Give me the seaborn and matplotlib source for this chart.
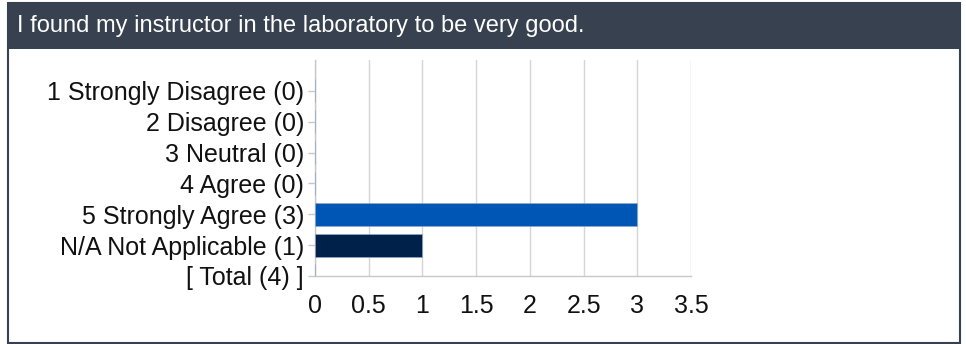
import matplotlib
matplotlib.use("Agg")
import matplotlib.pyplot as plt
import seaborn as sns
import pandas as pd
from matplotlib.patches import Rectangle

title = "I found my instructor in the laboratory to be very good."
categories = ["1 Strongly Disagree (0)", "2 Disagree (0)", "3 Neutral (0)", "4 Agree (0)",
              "5 Strongly Agree (3)", "N/A Not Applicable (1)", "[ Total (4) ]"]
counts = [0, 0, 0, 0, 3, 1, 0]
bar_colors = ["#0056b4", "#0056b4", "#0056b4", "#0056b4", "#0056b4", "#00214a", "#0056b4"]
xticks = [0, 0.5, 1, 1.5, 2, 2.5, 3, 3.5]
xticklabels = ["0", "0.5", "1", "1.5", "2", "2.5", "3", "3.5"]

df = pd.DataFrame({"category": categories, "count": counts})

sns.set_theme(style="white")
plt.rcParams['font.family'] = ['Liberation Sans', 'DejaVu Sans']

W, H = 966, 344
fig = plt.figure(figsize=(W / 100, H / 100), dpi=100)

# header band and border
header_col = "#37414f"
fig.patches.append(Rectangle((8 / W, 1 - 49 / H), 952 / W, 46 / H, transform=fig.transFigure,
                             facecolor=header_col, edgecolor="none", zorder=0))
fig.patches.append(Rectangle((8 / W, 1 - 343 / H), 952 / W, 340 / H, transform=fig.transFigure,
                             facecolor="none", edgecolor=header_col, linewidth=1.5, zorder=1))
fig.text(17 / W, 1 - 26 / H, title, color="white", fontsize=17, va="center", ha="left")

ax = fig.add_axes([315 / W, 1 - 276 / H, (691 - 315) / W, (276 - 60) / H])
sns.barplot(data=df, y="category", x="count", hue="category", palette=bar_colors,
            saturation=1, orient="h", width=0.75, legend=False, ax=ax,
            edgecolor="#8fa6c8", linewidth=0.5, zorder=3)
ax.set_ylim(6, -1)
ax.set_xlim(0, 3.5)
ax.set_xticks(xticks)
ax.set_xticklabels(xticklabels)
ax.set_xlabel("")
ax.set_ylabel("")
ax.grid(axis="x", color="#d6d6d6", linewidth=1)
ax.grid(axis="y", visible=False)
for s in ["top", "right"]:
    ax.spines[s].set_visible(False)
ax.spines["left"].set_color("#c8c8c8")
ax.spines["bottom"].set_color("#c8c8c8")
ax.spines["left"].set_linewidth(1)
ax.spines["bottom"].set_linewidth(1)
ax.tick_params(axis="y", length=5, color="#c8c8c8", width=1, pad=3, labelsize=18, labelcolor="#111111", left=True)
ax.tick_params(axis="x", length=0, pad=13, labelsize=18, labelcolor="#111111")

fig.savefig("out.png", dpi=100)
